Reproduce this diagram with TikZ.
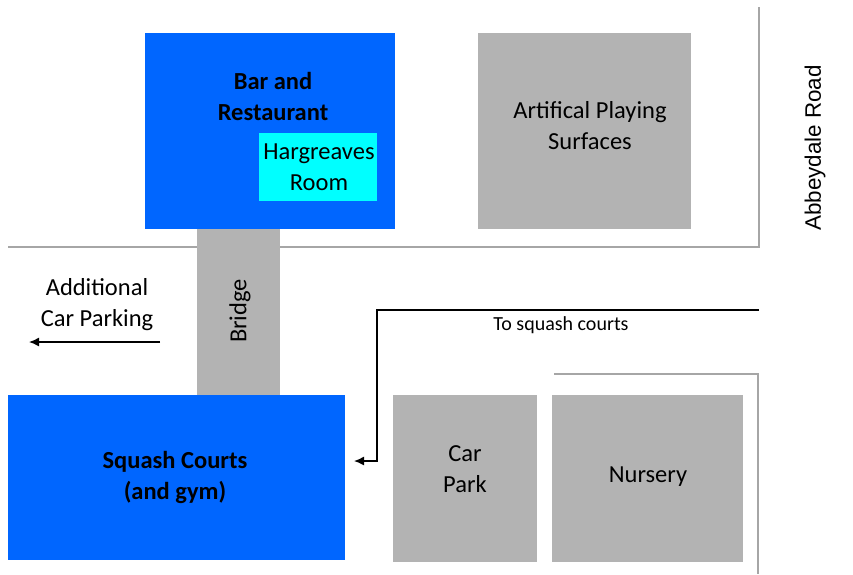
\documentclass[tikz,border=0pt]{standalone}
\usepackage{fontspec}
\setmainfont{Carlito}
\newfontfamily\arialfont{Liberation Sans}
\usetikzlibrary{arrows.meta}
\definecolor{bblue}{HTML}{0066FF}
\definecolor{bcyan}{HTML}{00FFFF}
\definecolor{bgrey}{HTML}{B3B3B3}
\definecolor{lgrey}{HTML}{A6A6A6}
\begin{document}
\begin{tikzpicture}[x=1pt,y=-1pt,
  blk/.style={draw=none,inner sep=0pt,outer sep=0pt,anchor=north west},
  bluebox/.style={blk,fill=bblue},
  greybox/.style={blk,fill=bgrey},
  cyanbox/.style={blk,fill=bcyan},
  lbl/.style={align=center,inner sep=0pt,font=\fontsize{24.5}{31}\selectfont},
  blbl/.style={lbl,font=\fontsize{24.5}{31}\selectfont\bfseries},
  road/.style={draw=lgrey,line width=1.2pt},
  route/.style={draw=black,line width=1.4pt},
  tip/.style={-{Latex[length=10pt,width=9pt]}}
]
\useasboundingbox (0,0) rectangle (853,574);
\fill[white] (0,0) rectangle (853,574);
% roads
\draw[road] (8,247) -- (759,247) -- (759,7);
\draw[road] (554,374) -- (758,374) -- (758,574);
% boxes
\node[bluebox,minimum width=250pt,minimum height=196pt] (bar) at (145,33) {};
\node[cyanbox,minimum width=118pt,minimum height=68pt] (harg) at (259,133) {};
\node[greybox,minimum width=213pt,minimum height=196pt] (art) at (478,33) {};
\node[greybox,minimum width=83pt,minimum height=166pt] (bridge) at (197,229) {};
\node[bluebox,minimum width=337pt,minimum height=165pt] (squash) at (8,395) {};
\node[greybox,minimum width=144pt,minimum height=167pt] (car) at (393,395) {};
\node[greybox,minimum width=191pt,minimum height=167pt] (nursery) at (552,395) {};
% texts
\node[blbl] (bart) at (273,96.5) {Bar and\\Restaurant};
\node[lbl] (hargt) at (319,167) {Hargreaves\\Room};
\node[lbl] (artt) at (590,126) {Artifical Playing\\Surfaces};
\node[lbl,rotate=90] (bridget) at (240,311) {Bridge};
\node[blbl] (squasht) at (175,477) {Squash Courts\\(and gym)};
\node[lbl] (cart) at (465,469.5) {Car\\Park};
\node[lbl] (nurst) at (648,477) {Nursery};
\node[lbl] (addt) at (97,305) {Additional\\Car Parking};
\node[inner sep=0pt,font=\fontsize{20}{24}\selectfont] (tosq) at (561,325) {To squash courts};
\node[inner sep=0pt,rotate=90,font=\arialfont\fontsize{22.4}{26}\selectfont] (abbey) at (815,148) {Abbeydale Road};
% connectors
\coordinate (rstart) at (759,310);
\coordinate (rend) at (354,461);
\draw[route,tip] (rstart) -- (377,310) |- (rend);
\coordinate (astart) at (160,342);
\coordinate (aend) at (29,342);
\draw[route,tip] (astart) -- (aend);
\end{tikzpicture}
\end{document}
